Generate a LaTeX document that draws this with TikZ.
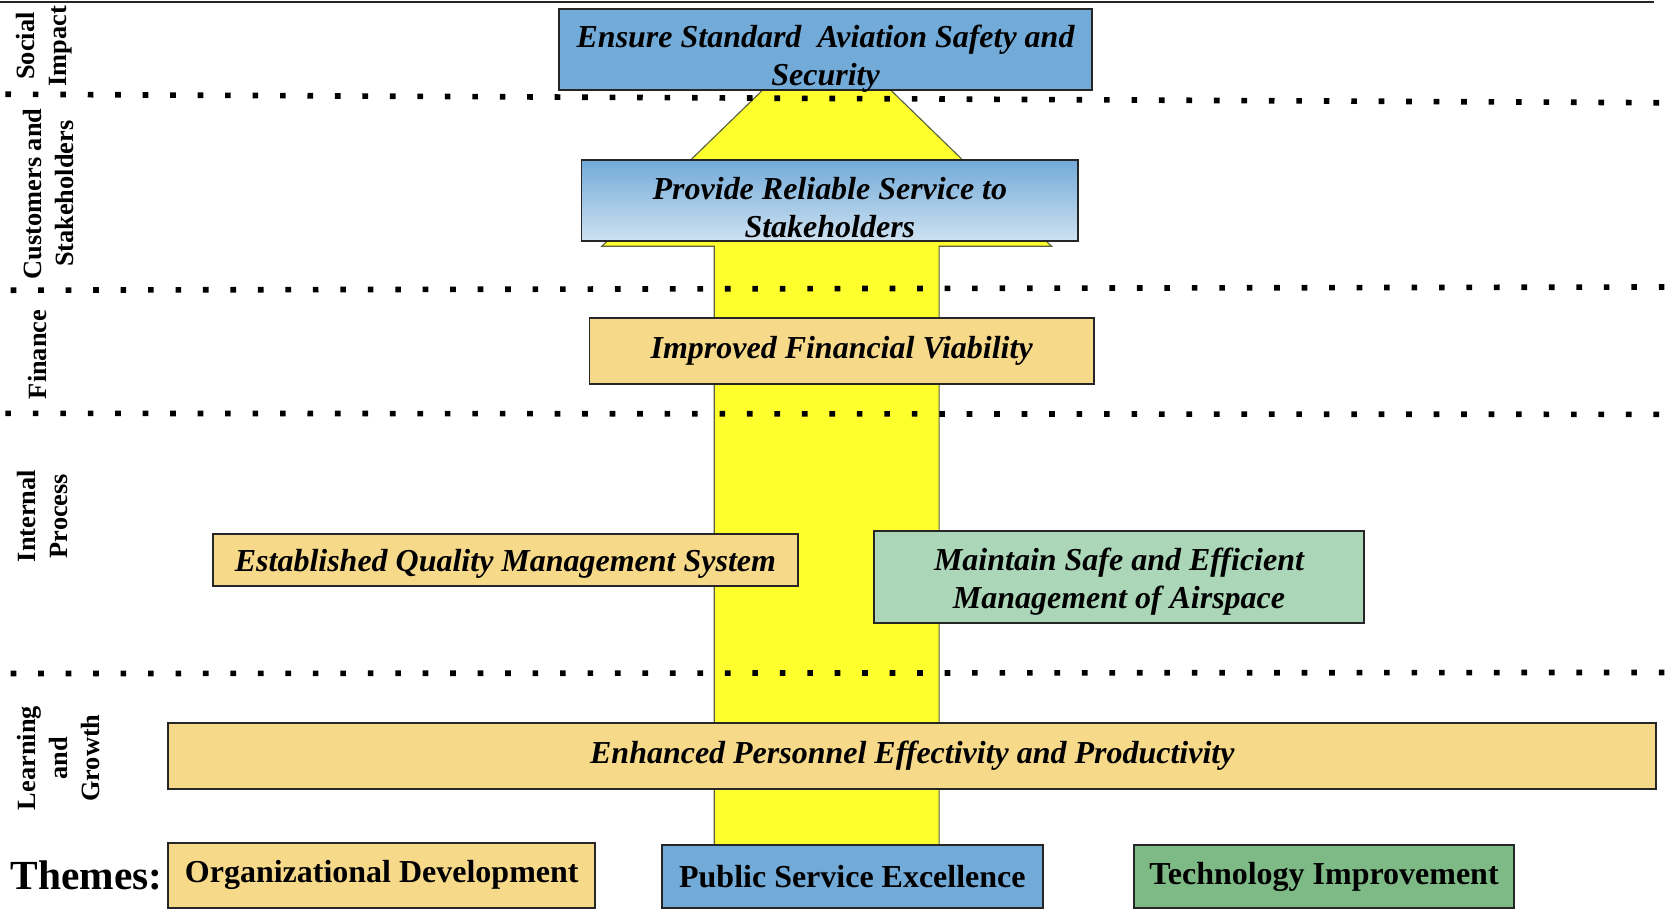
\documentclass[tikz,border=0pt]{standalone}
\usepackage{fontspec}
\setmainfont{Liberation Serif}
\usetikzlibrary{arrows.meta}

\definecolor{skyBlue}{HTML}{72AAD8}
\definecolor{paleGold}{HTML}{F7D98A}
\definecolor{seaGreen}{HTML}{ABD6B8}
\definecolor{leafGreen}{HTML}{7DBA86}
\definecolor{lemon}{HTML}{FFFF2E}
\definecolor{oliveLine}{HTML}{5A6040}

\tikzset{%
  % Specifications for style of nodes:
            base/.style = {rectangle, draw=black!85, line width=1pt,
                           inner sep=0pt, text centered, align=center,
                           font=\fontsize{17}{20}\selectfont\bfseries\itshape},
         boxText/.style = {align=center, inner sep=0pt,
                           font=\fontsize{17}{20}\selectfont\bfseries\itshape},
    socialImpact/.style = {base, fill=skyBlue},
       customers/.style = {base, top color=skyBlue, middle color=skyBlue!55!white,
                           bottom color=skyBlue!35!white},
         goldBox/.style = {base, fill=paleGold},
        greenBox/.style = {base, fill=seaGreen},
           theme/.style = {base, font=\fontsize{17}{20}\selectfont\bfseries},
     perspective/.style = {rotate=90, align=center, inner sep=0pt,
                           font=\fontsize{14}{17}\selectfont\bfseries},
         divider/.style = {line width=3pt, dash pattern=on 3pt off 11.6pt},
}

\begin{document}
\begin{tikzpicture}[x=0.02cm, y=-0.02cm]

\useasboundingbox (0,0) rectangle (1568,849);

% big upward arrow behind the boxes
\filldraw[fill=lemon, draw=oliveLine, line width=0.6pt]
  (667,800) -- (667,230) -- (562,230) -- (772,26) -- (982,230)
  -- (877,230) -- (877,800) -- cycle;

% rule on top and perspective dividers
\draw[line width=1.4pt, black!85] (0,2) -- (1545,2);
\draw[divider] (5,88)  -- (1562,96);
\draw[divider] (10,271) -- (1565,268);
\draw[divider] (5,386) -- (1565,387);
\draw[divider] (10,629) -- (1565,628);

% perspectives
\node (Social)    [perspective] at (41,43)  {Social\\Impact};
\node (Customers) [perspective] at (45,181) {Customers and\\Stakeholders};
\node (Finance)   [perspective] at (35,331) {Finance};
\node (Internal)  [perspective] at (40,482) {Internal\\Process};
\node (Learning)  [perspective] at (55,708) {Learning\\and\\Growth};

% objectives
\node (SI)     [socialImpact, minimum width=9.96cm, minimum height=1.52cm] at (771,46) {};
\node (SItext) [boxText] at (771,55) {Ensure Standard~~Aviation Safety and\\Security};

\node (PR)     [customers, minimum width=9.28cm, minimum height=1.52cm] at (775,187) {};
\node (PRtext) [boxText] at (775,194) {Provide Reliable Service to\\Stakeholders};

\node (IF)     [goldBox, minimum width=9.42cm, minimum height=1.24cm] at (786,328)
               {Improved Financial Viability};

\node (QM)     [goldBox, minimum width=10.92cm, minimum height=0.98cm] at (472,523) {};
\node (QMtext) [boxText] at (472,527) {Established Quality Management System};

\node (MS)     [greenBox, minimum width=9.16cm, minimum height=1.72cm] at (1045,539) {};
\node (MStext) [boxText] at (1045,543) {Maintain Safe and Efficient\\Management of Airspace};

\node (EP)     [goldBox, minimum width=27.8cm, minimum height=1.24cm] at (852,706)
               {Enhanced Personnel Effectivity and Productivity};

% themes
\node (Themes) [font=\fontsize{22}{26}\selectfont\bfseries] at (81,818) {Themes:};

\node (OD)     [theme, fill=paleGold, minimum width=7.98cm, minimum height=1.22cm]
               at (356.5,817.5) {Organizational Development};
\node (PS)     [theme, fill=skyBlue, minimum width=7.12cm, minimum height=1.18cm]
               at (796,818.5) {Public Service Excellence};
\node (TI)     [theme, fill=leafGreen, minimum width=7.1cm, minimum height=1.18cm]
               at (1236.5,818.5) {Technology Improvement};

\end{tikzpicture}
\end{document}
